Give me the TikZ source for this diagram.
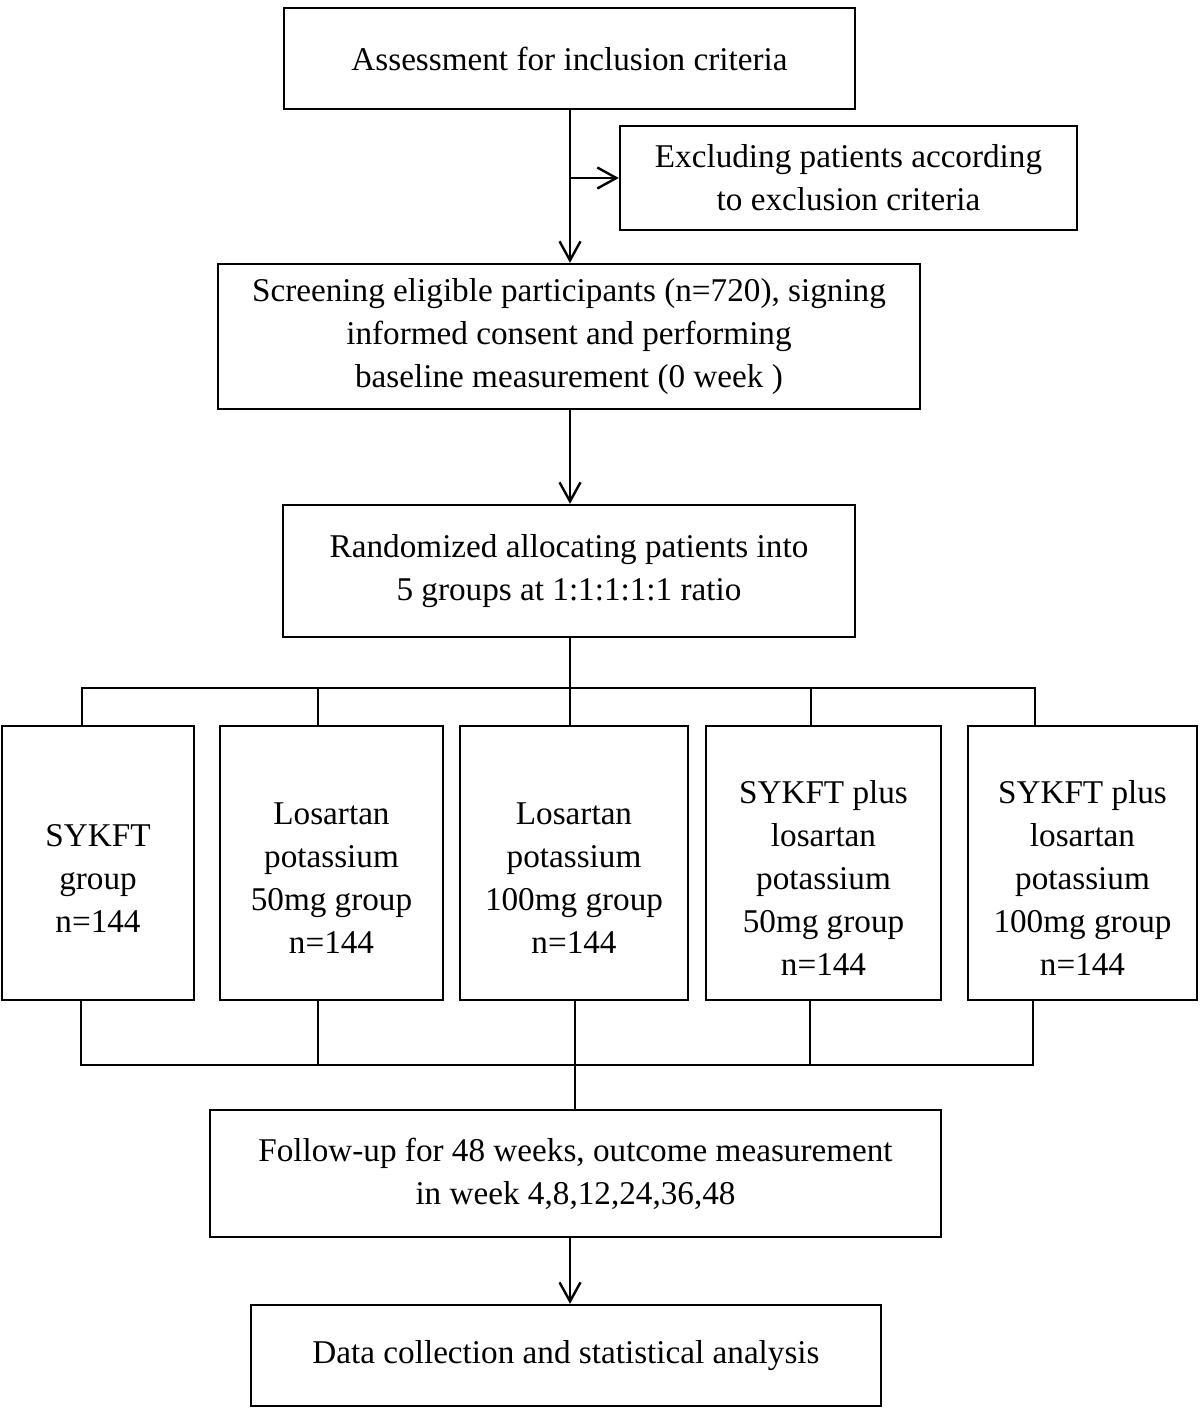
\documentclass[tikz,border=0pt]{standalone}
\usepackage{fontspec}
\setmainfont{Liberation Serif}
\usetikzlibrary{arrows.meta}
\begin{document}
\begin{tikzpicture}[x=0.5pt,y=-0.5pt,
  box/.style={draw,line width=1.2pt,inner sep=0pt,align=center,font=\fontsize{16.6pt}{21.5pt}\selectfont},
  gbox/.style={draw,line width=1.2pt,inner sep=0pt,minimum height=137pt},
  txt/.style={inner sep=0pt,align=center,font=\fontsize{16.6pt}{21.5pt}\selectfont},
  conn/.style={line width=1.2pt},
  arr/.style={conn,-{Straight Barb[length=9.5pt,width=10.5pt]}}]
\useasboundingbox (0,0) rectangle (1200,1408);

\node[box,minimum width=285.5pt,minimum height=50.5pt] (assess) at (569.5,58.5) {Assessment for inclusion criteria};
\node[box,minimum width=228.5pt,minimum height=52pt] (excl) at (848.5,178) {Excluding patients according\\to exclusion criteria};
\node[box,minimum width=351pt,minimum height=72.5pt] (screen) at (569,336.5) {Screening eligible participants (n=720), signing\\informed consent and performing\\baseline measurement (0 week )};
\node[box,minimum width=286pt,minimum height=66pt] (rand) at (569,571) {Randomized allocating patients into\\5 groups at 1:1:1:1:1 ratio};

\node[gbox,minimum width=96pt] (g1) at (98,863) {};
\node[gbox,minimum width=111.5pt] (g2) at (331.5,863) {};
\node[gbox,minimum width=114pt] (g3) at (574,863) {};
\node[gbox,minimum width=117.5pt] (g4) at (823.5,863) {};
\node[gbox,minimum width=114.5pt] (g5) at (1082.5,863) {};
\node[txt] (t1) at (98,878) {SYKFT\\group\\n=144};
\node[txt] (t2) at (331.5,878) {Losartan\\potassium\\50mg group\\n=144};
\node[txt] (t3) at (574,878) {Losartan\\potassium\\100mg group\\n=144};
\node[txt] (t4) at (823.5,878) {SYKFT plus\\losartan\\potassium\\50mg group\\n=144};
\node[txt] (t5) at (1082.5,878) {SYKFT plus\\losartan\\potassium\\100mg group\\n=144};

\node[box,minimum width=365.5pt,minimum height=63.5pt] (follow) at (575.5,1173.5) {Follow-up for 48 weeks, outcome measurement\\in week 4,8,12,24,36,48};
\node[box,minimum width=315pt,minimum height=50.5pt] (data) at (566,1355.5) {Data collection and statistical analysis};

% connectors
\coordinate (br) at (570,178);
\draw[arr] (assess.south -| br) -- (screen.north -| br);
\draw[arr] (br) -- (excl.west);
\draw[arr] (screen.south -| br) -- (rand.north -| br);

\coordinate (top1) at (82,688);
\coordinate (top2) at (318,688);
\coordinate (top3) at (570,688);
\coordinate (top4) at (811,688);
\coordinate (top5) at (1035,688);
\draw[conn] (rand.south -| top3) -- (top3);
\draw[conn] (g1.north -| top1) -- (top1) -- (top5) -- (g5.north -| top5);
\draw[conn] (top2) -- (g2.north -| top2);
\draw[conn] (top3) -- (g3.north -| top3);
\draw[conn] (top4) -- (g4.north -| top4);

\coordinate (bot1) at (81,1065);
\coordinate (bot2) at (318,1065);
\coordinate (bot3) at (575,1065);
\coordinate (bot4) at (810,1065);
\coordinate (bot5) at (1033,1065);
\draw[conn] (g1.south -| bot1) -- (bot1) -- (bot5) -- (g5.south -| bot5);
\draw[conn] (g2.south -| bot2) -- (bot2);
\draw[conn] (g3.south -| bot3) -- (bot3);
\draw[conn] (g4.south -| bot4) -- (bot4);
\draw[conn] (bot3) -- (follow.north -| bot3);

\coordinate (fd) at (570,1270);
\draw[arr] (follow.south -| fd) -- (data.north -| fd);
\end{tikzpicture}
\end{document}
